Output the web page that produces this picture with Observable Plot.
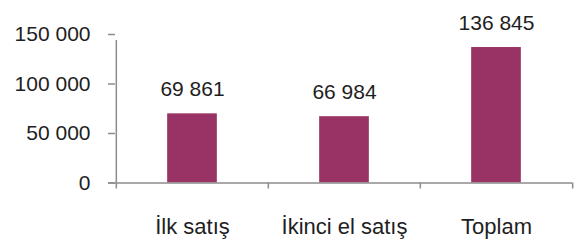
<!DOCTYPE html>
<html><head><meta charset="utf-8">
<script src="https://cdn.jsdelivr.net/npm/d3@7"></script>
<script src="https://cdn.jsdelivr.net/npm/@observablehq/plot@0.6"></script>
<style>
body{margin:0;background:#fff}
svg{font-family:"Liberation Sans",Arial,sans-serif}
</style>
</head><body><div id="chart"></div>
<script>
const categories = ["İlk satış", "İkinci el satış", "Toplam"];
const values = [69861, 66984, 136845];
const yTicks = [0, 50000, 100000, 150000];

const fmt = d3.formatLocale({thousands: " ", grouping: [3], decimal: ",", currency: ["", ""]}).format(",");
const data = categories.map((c, i) => ({category: c, value: values[i]}));

const W = 577, H = 240, ML = 115, MR = 5;
const half = (W - ML - MR) / categories.length / 2;
const barW = 50;
const axisColor = "#8c8c8c";
const textColor = "#1e1e1e";

const chart = Plot.plot({
  width: W, height: H,
  marginLeft: ML, marginRight: MR, marginTop: 34, marginBottom: 57.5,
  style: {fontFamily: '"Liberation Sans", Arial, sans-serif', fontSize: "21px", background: "#fff", color: textColor},
  x: {domain: categories, padding: 0, axis: null, label: null},
  y: {domain: [0, 150000], axis: null, label: null},
  marks: [
    Plot.barY(data, {x: "category", y: "value", fill: "#993366", insetLeft: half - barW / 2, insetRight: half - barW / 2}),
    Plot.ruleY([0], {stroke: axisColor, strokeWidth: 1.5, insetLeft: -7}),
    Plot.ruleX([categories[0]], {x: d => d, dx: -half, y1: 0, y2: 150000, insetBottom: -6, stroke: axisColor, strokeWidth: 1.5}),
    Plot.axisY(yTicks, {tickFormat: fmt, tickSize: 7, tickPadding: 18, stroke: axisColor, strokeWidth: 1.5, fill: textColor, fontSize: 21, label: null}),
    Plot.axisX(categories, {fill: "none", tickSize: 6, dx: -half, stroke: axisColor, strokeWidth: 1.5, label: null}),
    Plot.axisX([categories[categories.length - 1]], {fill: "none", tickSize: 6, dx: half, stroke: axisColor, strokeWidth: 1.5, label: null}),
    Plot.axisX(categories, {tickSize: 0, tickPadding: 35, fill: textColor, fontSize: 22, label: null}),
    Plot.text(data, {x: "category", y: "value", text: d => fmt(d.value), lineAnchor: "bottom", dy: -18, fill: textColor, fontSize: 21})
  ]
});
document.getElementById("chart").append(chart);
</script>
</body></html>
